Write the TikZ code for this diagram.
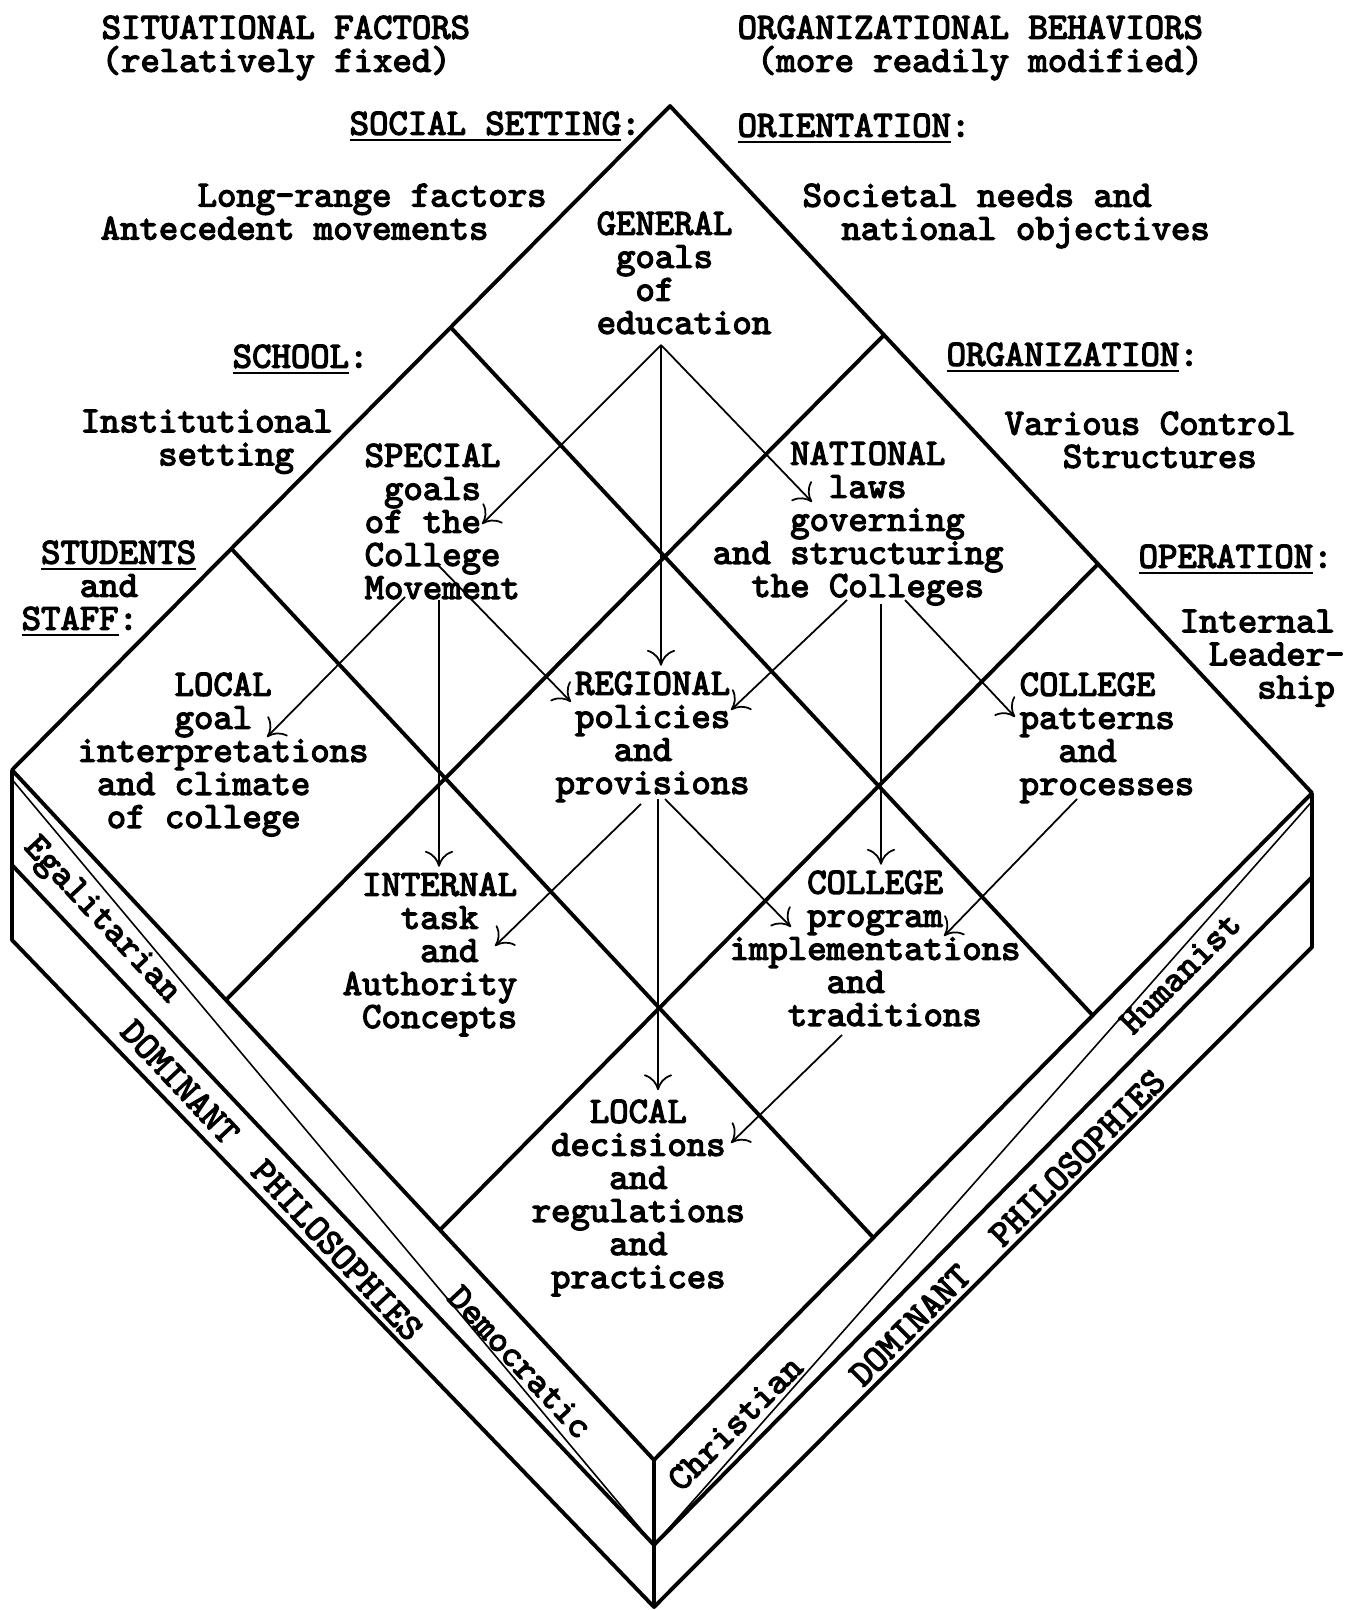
\documentclass[tikz,border=0pt]{standalone}
\usepackage{fontspec}
\usepackage{tikz}
\usetikzlibrary{calc}
\usetikzlibrary{arrows.meta}

\newfontfamily\typew{lmmono10-regular.otf}[FakeBold=3.5]
\newcommand\chsp[1]{\hspace*{#1\fontcharwd\font`M}}
\newcommand\typeset{\typew\fontsize{10.5}{9.4}\selectfont\lineskiplimit=-20pt}

\begin{document}
\begin{tikzpicture}[x=0.01cm, y=-0.01cm]

                \tikzstyle{txt}  = [inner sep=0pt, anchor=north west, align=left, font=\typeset]
                \tikzstyle{side} = [inner sep=0pt, font=\typeset]
                \tikzstyle{rimline}  = [line width=1.1pt, line join=round]
                \tikzstyle{thinline} = [line width=0.45pt]
                \tikzstyle{arr} = [line width=0.5pt, -{To[length=4.5pt,width=8pt]}]
                \useasboundingbox (0,0) rectangle (1350,1610);

                % top face and box corners
                \coordinate (T) at (670,106);
                \coordinate (L) at (12,770);
                \coordinate (R) at (1312,793);
                \coordinate (B) at (654,1460);
                \coordinate (L1) at (12,865);
                \coordinate (L2) at (12,940);
                \coordinate (B1) at (654,1545);
                \coordinate (B2) at (654,1607);
                \coordinate (R1) at (1312,877);
                \coordinate (R2) at (1312,947);

                \draw[rimline] (T) -- (R) -- (B) -- (L) -- cycle;
                \draw[rimline] (L) -- (L2) -- (B2) -- (R2) -- (R);
                \draw[rimline] (B) -- (B2);
                \draw[rimline] (L1) -- (B1) -- (R1);
                \foreach \f in {1/3,2/3} {
                        \draw[rimline] ($(T)!\f!(L)$) -- ($(R)!\f!(B)$);
                        \draw[rimline] ($(T)!\f!(R)$) -- ($(L)!\f!(B)$);
                }
                \draw[thinline] ($(L)!0.1!(L1)$) -- (B1) -- ($(R)!0.1!(R1)$);

                % headings round the top face
                \node[txt] (sitfac) at (101,15) {SITUATIONAL FACTORS\\(relatively fixed)};
                \node[txt] (orgbeh) at (737,15) {ORGANIZATIONAL BEHAVIORS\\\chsp{1}(more readily modified)};
                \node[txt] (social) at (349,111) {\underline{SOCIAL SETTING}:};
                \node[txt] (orient) at (737,113) {\underline{ORIENTATION}:};
                \node[txt] (longrange) at (100,183) {\chsp{5}Long-range factors\\Antecedent movements};
                \node[txt] (societal) at (802,183) {Societal needs and\\\chsp{2}national objectives};
                \node[txt] (school) at (232,344) {\underline{SCHOOL}:};
                \node[txt] (organiz) at (946,342) {\underline{ORGANIZATION}:};
                \node[txt] (instit) at (80,409) {Institutional\\\chsp{4}setting};
                \node[txt] (various) at (1004,411) {Various Control\\\chsp{3}Structures};
                \node[txt] (students) at (21,540) {\chsp{1}\underline{STUDENTS}\\\chsp{3}and\\\underline{STAFF}:};
                \node[txt] (operation) at (1138,544) {\underline{OPERATION}:};
                \node[txt] (leader) at (1179,609) {Internal\\\chsp{1.5}Leader-\\\chsp{4}ship};

                % the nine cells
                \node[txt] (general) at (596,211) {GENERAL\\\chsp{1}goals\\\chsp{2}of\\education};
                \node[txt] (special) at (364,443) {SPECIAL\\\chsp{1}goals\\of the\\College\\Movement};
                \node[txt] (national) at (712,441) {\chsp{4}NATIONAL\\\chsp{6}laws\\\chsp{4}governing\\and structuring\\\chsp{2}the Colleges};
                \node[txt] (localgoal) at (77,672) {\chsp{5}LOCAL\\\chsp{5}goal\\interpretations\\\chsp{1}and climate\\\chsp{1.5}of college};
                \node[txt] (regional) at (555,671) {\chsp{1}REGIONAL\\\chsp{1}policies\\\chsp{3}and\\provisions};
                \node[txt] (colpat) at (1019,672) {COLLEGE\\patterns\\\chsp{2}and\\processes};
                \node[txt] (internal) at (342,872) {\chsp{1}INTERNAL\\\chsp{3}task\\\chsp{4}and\\Authority\\\chsp{1}Concepts};
                \node[txt] (colprog) at (729,870) {\chsp{4}COLLEGE\\\chsp{4}program\\implementations\\\chsp{5}and\\\chsp{3}traditions};
                \node[txt] (locdec) at (531,1099) {\chsp{3}LOCAL\\\chsp{1}decisions\\\chsp{4}and\\regulations\\\chsp{4}and\\\chsp{1}practices};

                % sides of the box
                \node[side, rotate=-47] (egal) at (101,921) {Egalitarian};
                \node[side, rotate=-47] (domleft) at (180,1082) {DOMINANT};
                \node[side, rotate=-47] (philleft) at (337,1250) {PHILOSOPHIES};
                \node[side, rotate=-47] (democ) at (520,1362) {Democratic};
                \node[side, rotate=45] (christ) at (735,1423) {Christian};
                \node[side, rotate=45] (domright) at (910,1325) {DOMINANT};
                \node[side, rotate=45] (philright) at (1077,1158) {PHILOSOPHIES};
                \node[side, rotate=45] (human) at (1180,973) {Humanist};

                % arrow ends
                \coordinate (genout) at (661,345);
                \coordinate (specout) at (439,600);
                \coordinate (specmid) at (437,564);
                \coordinate (specleft) at (405,597);
                \coordinate (natout) at (881,604);
                \coordinate (natleft) at (847,600);
                \coordinate (natright) at (905,600);
                \coordinate (regout) at (658,799);
                \coordinate (regleft) at (641,804);
                \coordinate (regright) at (665,799);
                \coordinate (patout) at (1077,799);
                \coordinate (progout) at (842,1035);
                \coordinate (specin) at (482,524);
                \coordinate (natin) at (812,502);
                \coordinate (locin) at (267,737);
                \coordinate (regin) at (571,702);
                \coordinate (regin2) at (731,710);
                \coordinate (patin) at (1015,717);
                \coordinate (intin) at (495,946);
                \coordinate (progin) at (791,927);
                \coordinate (progin2) at (944,936);
                \coordinate (decin) at (731,1143);

                \draw[arr, shorten >=1.5pt] (genout) -- (genout |- regional.north);
                \draw[arr, shorten >=1.5pt] (specout) -- (specout |- internal.north);
                \draw[arr, shorten >=1.5pt] (natout) -- (natout |- colprog.north);
                \draw[arr, shorten >=2.5pt] (regout) -- (regout |- locdec.north);
                \draw[arr] (genout) -- (specin);
                \draw[arr] (genout) -- (natin);
                \draw[arr] (specleft) -- (locin);
                \draw[arr] (specmid) -- (regin);
                \draw[arr] (natleft) -- (regin2);
                \draw[arr] (natright) -- (patin);
                \draw[arr] (regleft) -- (intin);
                \draw[arr] (regright) -- (progin);
                \draw[arr] (patout) -- (progin2);
                \draw[arr] (progout) -- (decin);
\end{tikzpicture}
\end{document}
